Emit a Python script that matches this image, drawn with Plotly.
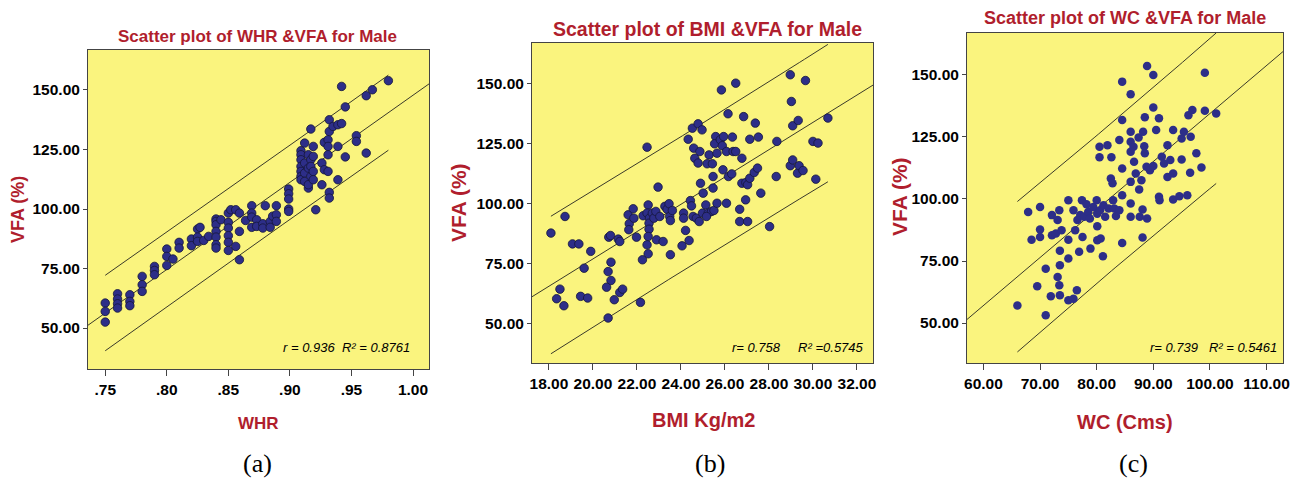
import numpy as np
import plotly.graph_objects as go

# ---------------- data ----------------
whr = [.75, .75, .75,
       .76, .76, .76, .76,
       .77, .77, .77,
       .78, .78, .78,
       .79, .79, .79,
       .80, .80, .80,
       .805,
       .81, .81,
       .82, .82,
       .825, .825, .825,
       .827, .83, .834,
       .84, .84, .84, .84, .84, .84, .84,
       .844,
       .85, .85, .85, .85, .85, .85,
       .852, .856, .856,
       .859, .859, .859,
       .864,
       .869, .869, .869, .869,
       .873, .873,
       .878, .878, .880,
       .884, .884, .886,
       .889, .889, .889,
       .899, .899, .899, .899, .899,
       .909, .909, .909, .909, .909, .909, .909,
       .912, .912, .912, .912,
       .915, .915, .915, .915,
       .917, .917, .917, .917,
       .919, .919, .919, .919,
       .921,
       .926, .926,
       .928, .928,
       .931, .931, .931, .931,
       .932, .932, .932, .932,
       .935,
       .939, .939, .939,
       .942, .942,
       .945, .945,
       .954, .954,
       .962, .962,
       .967, .980]
whr_vfa = [60.5, 57, 52.5,
           64.4, 62.2, 60.2, 58.4,
           64, 61.2, 59.4,
           71.7, 68.2, 65.4,
           75.9, 74.2, 72.4,
           83.2, 80.1, 76.3,
           79,
           86, 83.6,
           87.4, 84.6,
           91.6, 88.2, 86.4,
           92.3, 86.8, 88.5,
           95.8, 94.8, 93.4, 90.6, 88.2, 85, 83.6,
           95.5,
           98.3, 94.4, 92, 88.8, 86, 82.6,
           99.7, 99.7, 84.3,
           98.3, 90.6, 78.7,
           95.2,
           101.4, 98.3, 96.6, 92.3,
           95.5, 92.7,
           93.8, 92, 101.4,
           94.8, 92.3, 97,
           101.4, 97.6, 94.8,
           108.4, 106.4, 104.2, 100, 99,
           124.5, 122.8, 120.7, 117.9, 115.8, 113.7, 112.3,
           127.7, 119.3, 115.1, 111.6,
           122.8, 117.2, 108.8, 110.2,
           133.6, 120.7, 117.9, 113.7,
           126.3, 122.1, 115.8, 112.3,
           99.7,
           119.3, 110.2,
           128, 116.5,
           129.1, 126.3, 122.8, 115.8,
           137.5, 132.6, 107, 104.6,
           134.7,
           135.4, 126.3, 112.3,
           151.5, 135.9,
           142.9, 121.9,
           130.8, 128.4,
           123.5, 147.6,
           150.1, 153.9]

bmi = [18.09, 18.73, 18.5, 18.35, 18.68, 19.07, 19.36, 19.9, 19.6, 19.44, 19.76,
       20.72, 20.8, 21.15, 21.22, 20.82, 20.69, 20.82, 20.62, 20.97, 21.22, 21.35, 20.69,
       22.16, 21.6, 21.83, 21.65, 21.63, 21.86, 21.98, 22.28, 22.51, 22.46, 22.46, 22.57,
       22.55, 22.55, 22.51, 22.46, 22.51, 22.25, 22.7, 22.77, 22.86, 22.96, 22.89, 23.04,
       23.19, 23.27, 23.37, 23.46, 23.49, 23.52, 23.61, 23.52, 24.05, 24.12, 24.12, 24.21,
       24.37, 24.33, 24.52, 24.78, 24.96, 24.58, 24.63, 24.78, 24.86, 25.19, 25.28, 25.43,
       25.46, 25.46, 24.89, 25.01, 24.43, 24.48, 24.55, 24.7, 24.83, 24.98, 25.13, 25.24,
       25.39, 25.5, 25.16, 25.64, 25.58, 25.53, 25.64, 25.79, 25.88, 25.94, 25.84, 26.07,
       25.91, 26.07, 26.14, 26.16, 26.34, 26.31, 26.37, 26.49, 26.49, 26.77, 26.67, 26.67,
       26.85, 26.77, 26.95, 27.03, 26.94, 27.03, 27.13, 27.13, 27.33, 27.38, 27.48, 27.52,
       27.63, 28.03, 28.33, 28.36, 28.97, 29.02, 29.08, 29.33, 29.66, 28.97, 29.08, 29.3,
       29.37, 29.55, 30.0, 30.23, 30.13, 30.68]
bmi_vfa = [87.7, 94.6, 64.4, 60.4, 57.5, 83.2, 83.2, 80.1, 73.1, 61.4, 60.7,
           86, 86.7, 85.2, 84.2, 75.6, 71.7, 68, 65.2, 60, 63, 64.4, 52.4,
           58.9, 95.3, 97.8, 91.6, 89.1, 93.9, 86, 94.9, 99.4, 96, 123.4, 93.9,
           91.8, 89.3, 86.3, 82.8, 79.1, 76.6, 96, 93.9, 96.7, 106.8, 84.9, 94.6,
           84.2, 98.8, 97.6, 99.9, 94.6, 92.9, 97.1, 78.7, 82.4, 96, 93.9, 88.8,
           84.6, 126.7, 131.3, 133.1, 130.6, 123, 118.8, 116.8, 121.6, 116.5, 120.2, 116.5,
           111.2, 106.4, 108.4, 104.3, 101.2, 99, 94.6, 93.9, 92.5, 96, 99.4, 96,
           96.7, 97.1, 94.6, 100.1, 127.8, 124.8, 120.9, 126.5, 124, 127.8, 147.2, 121.6,
           114, 100.1, 137.3, 111.2, 127.6, 112.3, 121.6, 121.6, 150, 118.8, 97.6, 92.5,
           136.1, 108.4, 108.7, 107.8, 101.5, 92.5, 126.7, 110.5, 112.9, 133.4, 114.7, 127.6,
           104.3, 90.4, 111.2, 125.8, 153.5, 142.4, 132.3, 134.5, 151.1, 115.7, 118.1, 112.6,
           115.7, 113.7, 125.8, 125.1, 110.1, 135.5]

wc = [66, 67.9, 68.5, 70, 70, 70, 69.5, 71, 71, 72.1, 72.1, 71.9, 73.1, 72.8, 73.1,
      73.4, 73.5, 73.5, 73.5, 73.4, 73.8, 75, 75, 75, 75, 75.9, 76.5, 75.9, 76.2, 76.9,
      76.6, 77.1, 77.4, 77.5, 77.8, 78.2, 78.5, 78.8, 78.9, 79.4, 80, 80.1, 80.1, 80.1,
      80.6, 80.7, 81.1, 80.5, 80.5, 81.2, 81.5, 81.9, 82.1, 82.6, 82.5, 82.8, 82.9, 83.1,
      83.4, 84, 84, 84.5, 84.5, 84.5, 84.5, 84.5, 86, 86, 86, 86, 86, 86, 86,
      86.5, 86.6, 86.9, 87.4, 87.5, 87.6, 87.9, 88.1, 88.2, 88.4, 88.5, 88.1, 88.5, 88.8,
      88.9, 88.9, 90, 90, 89.4, 90, 90.5, 91, 91, 91.1, 91.5, 91.9, 92.5, 92.5, 93,
      93.5, 93.5, 93.5, 94.6, 95, 95, 95.4, 96, 96.2, 96.6, 96.5, 96.9, 97.6, 98.5,
      99.1, 99.1, 101.1]
wc_vfa = [57.1, 94.8, 83.6, 96.8, 87.7, 84.7, 64.8, 71.9, 53.1, 93.5, 85.4, 60.8, 91.5, 86.1, 68.6,
          65.2, 61.2, 79.1, 73.3, 95.5, 87.4, 99.5, 83.6, 76, 59.2, 59.8, 63.2, 95.5, 87.4, 78.7,
          91.5, 93.5, 99.5, 84.7, 92.8, 97.9, 94.8, 92.1, 80, 96.8, 99.5, 94.1, 89, 83.4,
          95.5, 84.1, 76.9, 121.1, 116.8, 97.5, 92.8, 121.7, 96.2, 116.8, 108.3, 106.3, 99.5, 96.2,
          93.1, 123.8, 95.5, 147.3, 131.8, 112.3, 101.5, 82.3, 142.2, 127.1, 123.1, 119, 106.9, 98.2, 92.8,
          121.1, 115, 110.3, 124.8, 103.8, 92.8, 107.6, 95.8, 127.1, 121.3, 132.9, 84.5, 118.4, 113,
          92.1, 153.6, 150, 136.9, 111.6, 113.3, 127.8, 132.5, 100.9, 99.5, 117, 114.3, 121.7, 108.9, 115.7,
          127.8, 110.3, 99.8, 101.1, 124.4, 115.9, 127.1, 101.5, 133.8, 125.1, 110.6, 135.9, 118.4, 112.7,
          150.9, 135.6, 134.5]

whr_ticks = [0.75, 0.80, 0.85, 0.90, 0.95, 1.00]
whr_ticktext = [".75", ".80", ".85", ".90", ".95", "1.00"]
bmi_ticks = [18, 20, 22, 24, 26, 28, 30, 32]
bmi_ticktext = ["18.00", "20.00", "22.00", "24.00", "26.00", "28.00", "30.00", "32.00"]
wc_ticks = [60, 70, 80, 90, 100, 110]
wc_ticktext = ["60.00", "70.00", "80.00", "90.00", "100.00", "110.00"]
vfa_ticks = [50, 75, 100, 125, 150]
vfa_ticktext = ["50.00", "75.00", "100.00", "125.00", "150.00"]

titles = ["Scatter plot of WHR &VFA for Male",
          "Scatter plot of BMI &VFA for Male",
          "Scatter plot of WC &VFA for Male"]
x_titles = ["WHR", "BMI Kg/m2", "WC (Cms)"]
y_title = "VFA (%)"
stats_text = ["r = 0.936  R² = 0.8761", "r= 0.758     R² =0.5745", "r= 0.739   R² = 0.5461"]
panel_labels = ["(a)", "(b)", "(c)"]

# ---------------- layout helpers ----------------
W, H = 1301, 481
def px(x):
    return x / W
def py(y):
    return 1 - y / H

YELLOW = "#FAF47E"
DOT = "#2D2E88"
RED = "#B01E2D"
FONT = "Liberation Sans"

# plot-area boxes in pixels: left, right, top, bottom
boxes = [(88, 429, 50, 369), (532, 873, 43, 363), (967, 1283, 33, 363)]
xranges = [[0.736, 1.013], [17.23, 32.73], [57.1, 112.9]]
yranges = [[32.8, 166.8], [33.7, 166.7], [33.9, 166.9]]


def fit_lines(x, y, lo, hi):
    x = np.asarray(x, float)
    y = np.asarray(y, float)
    n = len(x)
    b1, b0 = np.polyfit(x, y, 1)
    res = y - (b0 + b1 * x)
    s = np.sqrt((res ** 2).sum() / (n - 2))
    xm = x.mean()
    sxx = ((x - xm) ** 2).sum()
    t = 1.973
    full = np.array([lo, hi])
    xs = np.linspace(x.min(), x.max(), 60)
    half = t * s * np.sqrt(1 + 1 / n + (xs - xm) ** 2 / sxx)
    yh = b0 + b1 * xs
    return full, b0 + b1 * full, xs, yh + half, yh - half


fig = go.Figure()
datasets = [(whr, whr_vfa), (bmi, bmi_vfa), (wc, wc_vfa)]
tickinfo = [(whr_ticks, whr_ticktext), (bmi_ticks, bmi_ticktext), (wc_ticks, wc_ticktext)]

for i, (xd, yd) in enumerate(datasets):
    xa = "x" if i == 0 else f"x{i+1}"
    ya = "y" if i == 0 else f"y{i+1}"
    fx, fy, xs, up, lo = fit_lines(xd, yd, xranges[i][0], xranges[i][1])
    for lx, ly in [(fx, fy), (xs, up), (xs, lo)]:
        fig.add_trace(go.Scatter(x=lx, y=ly, mode="lines", xaxis=xa, yaxis=ya,
                                 line=dict(color="#3a3a2a", width=1), hoverinfo="skip",
                                 showlegend=False))
    fig.add_trace(go.Scatter(x=xd, y=yd, mode="markers", xaxis=xa, yaxis=ya,
                             marker=dict(size=8.5, color=DOT,
                                         line=dict(color="#15163a", width=0.8 if i < 2 else 0)),
                             showlegend=False))

layout = dict(width=W, height=H, margin=dict(l=0, r=0, t=0, b=0, autoexpand=False),
              paper_bgcolor="white", plot_bgcolor=YELLOW, showlegend=False,
              font=dict(family=FONT, color="black"))

for i in range(3):
    l, r, t, b = boxes[i]
    xk = "xaxis" if i == 0 else f"xaxis{i+1}"
    yk = "yaxis" if i == 0 else f"yaxis{i+1}"
    ya = "y" if i == 0 else f"y{i+1}"
    xa = "x" if i == 0 else f"x{i+1}"
    tv, tt = tickinfo[i]
    layout[xk] = dict(domain=[px(l), px(r)], range=xranges[i], anchor=ya,
                      tickmode="array", tickvals=tv, ticktext=tt, tickangle=0,
                      automargin=False,
                      showgrid=False, zeroline=False, showline=True, mirror=True,
                      linecolor="#444", linewidth=1, ticks="outside", ticklen=6,
                      tickcolor="#444",
                      tickfont=dict(family=FONT, size=15.5, color="black", weight="bold"))
    layout[yk] = dict(domain=[py(b), py(t)], range=yranges[i], anchor=xa,
                      tickmode="array", tickvals=vfa_ticks, ticktext=vfa_ticktext,
                      automargin=False,
                      showgrid=False, zeroline=False, showline=True, mirror=True,
                      linecolor="#444", linewidth=1, ticks="outside", ticklen=4,
                      tickcolor="#444",
                      tickfont=dict(family=FONT, size=15.5, color="black", weight="bold"))

fig.update_layout(**layout)

# annotations
title_pos = [(257, 37, 17), (707, 29, 19.5), (1125, 18, 18)]
xt_pos = [(258, 423, 17), (703, 420, 20), (1125, 422, 20)]
yt_pos = [(18, 210, 18), (458, 203, 21), (900, 197, 21)]
st_pos = [(412, 347), (866, 347), (1279, 347)]
pl_pos = [(257, 463), (710, 463), (1133, 463)]

def ann(x, y, text, font, **kw):
    fig.add_annotation(x=px(x), y=py(y), xref="paper", yref="paper", text=text,
                       showarrow=False, font=font, yanchor="middle",
                       **({"xanchor": "center"} | kw))

for i in range(3):
    x, y, s = title_pos[i]
    ann(x, y, titles[i], dict(family=FONT, size=s, color=RED, weight="bold"))
    x, y, s = xt_pos[i]
    ann(x, y, x_titles[i], dict(family=FONT, size=s, color=RED, weight="bold"))
    x, y, s = yt_pos[i]
    ann(x, y, y_title, dict(family=FONT, size=s, color=RED, weight="bold"), textangle=-90)
    x, y = st_pos[i]
    ann(x, y, f"<i>{stats_text[i]}</i>", dict(family=FONT, size=13, color="black"),
        xanchor="right")
    x, y = pl_pos[i]
    ann(x, y, panel_labels[i], dict(family="Liberation Serif", size=26, color="black"))

fig.write_html("out.html", config={"displayModeBar": False},
               post_script="document.body.style.margin='0';document.body.style.overflow='hidden';")
